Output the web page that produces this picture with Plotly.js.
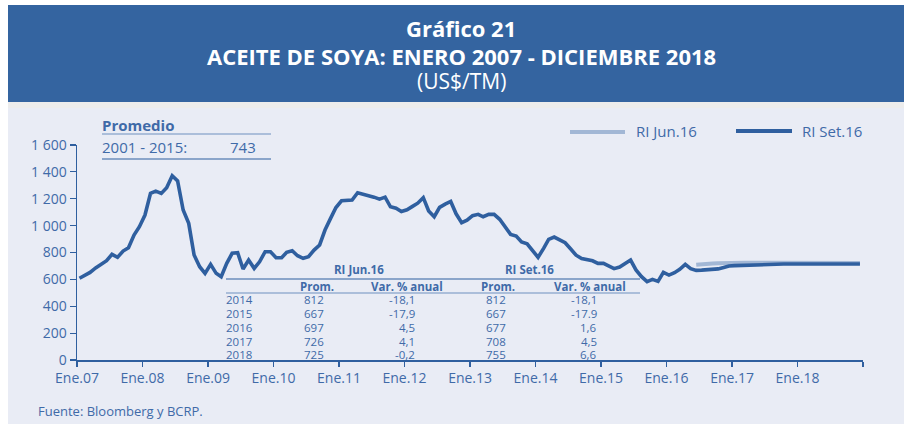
<!DOCTYPE html>
<html><head><meta charset="utf-8">
<script src="https://cdn.plot.ly/plotly-3.0.1.min.js"></script>
<style>html,body{margin:0;padding:0;background:#fff;}#chart{width:904px;height:424px;}</style>
</head><body><div id="chart"></div>
<script>
// ---- data (US$/TM), monthly Jan 2007 - Dec 2018 ----
const startYear = 2007;
const riSet16 = [
  608, 630, 652, 685, 712, 739, 786, 764, 811, 836, 930, 992,      // 2007
  1079, 1240, 1257, 1240, 1282, 1371, 1332, 1116, 1017, 781, 694, 645, // 2008
  712, 645, 620, 719, 794, 798, 677, 744, 682, 731, 806, 806,      // 2009
  761, 761, 801, 813, 776, 757, 769, 818, 856, 967, 1054, 1135,    // 2010
  1185, 1188, 1190, 1245, 1235, 1222, 1212, 1197, 1212, 1140, 1129, 1105, // 2011
  1118, 1143, 1167, 1208, 1109, 1066, 1136, 1160, 1180, 1088, 1022, 1040, // 2012
  1074, 1084, 1066, 1084, 1084, 1047, 992, 935, 922, 878, 865, 818, // 2013
  764, 831, 898, 915, 893, 873, 828, 780, 755, 748, 738, 719,      // 2014
  719, 699, 680, 692, 715, 744, 670, 620, 583, 600, 585, 652,      // 2015
  632, 650, 675, 712, 680, 667, 669, 671, 675, 678, 688, 700,      // 2016
  702, 704, 706, 707, 709, 710, 711, 712, 713, 714, 714, 714,      // 2017
  714, 714, 714, 714, 714, 714, 714, 714, 714, 714, 714, 714       // 2018
];
const riJun16Start = 113; // month index (Jun 2016)
const riJun16 = [
  708, 713, 716, 718, 720, 722, 723,                               // 2016 Jun-Dec
  724, 724, 724, 724, 724, 724, 724, 724, 723, 722, 722, 722,      // 2017
  722, 722, 722, 722, 722, 722, 722, 722, 722, 722, 722, 722       // 2018
];
const xTickYears = [2007,2008,2009,2010,2011,2012,2013,2014,2015,2016,2017,2018,2019];
const xTickText = ['Ene.07','Ene.08','Ene.09','Ene.10','Ene.11','Ene.12','Ene.13','Ene.14','Ene.15','Ene.16','Ene.17','Ene.18',''];
const yTickVals = [0,200,400,600,800,1000,1200,1400,1600];
const yTickText = ['0','200','400','600','800','1 000','1 200','1 400','1 600'];
const promedioLabel = '2001 - 2015:';
const promedioValue = '743';
const tableYears = ['2014','2015','2016','2017','2018'];
const junProm = ['812','667','697','726','725'];
const junVar = ['-18,1','-17,9','4,5','4,1','-0,2'];
const setProm = ['812','667','677','708','755'];
const setVar = ['-18,1','-17.9','1,6','4,5','6,6'];

// ---- helpers ----
function monthDate(i){ const y = startYear + Math.floor(i/12); const m = i%12 + 1; return y + '-' + String(m).padStart(2,'0') + '-15'; }
const xSet = riSet16.map((_, i) => monthDate(i));
const xJun = riJun16.map((_, i) => monthDate(riJun16Start + i));

const L = 77, R = 863, T = 145, B = 360;
const W = 904, H = 424;
const px = x => (x - L) / (R - L);
const py = y => (B - y) / (B - T);

const FONT = 'Open Sans, sans-serif';
const BLUE = '#2f5f9f';
const TXT = '#3f6aa8';
const LIGHT = '#a2b7d5';

const annotations = [];
function ann(text, x, y, size, opts){
  annotations.push(Object.assign({xref:'paper', yref:'paper', x:px(x), y:py(y), text:text, showarrow:false,
    xanchor:'left', yanchor:'middle', borderpad:0, font:{family:FONT, size:size, color:TXT}}, opts||{}));
}
// Header
ann('<b>Gráfico 21</b>', 461, 28, 22, {xanchor:'center', font:{family:FONT, size:22, color:'#ffffff'}});
ann('<b>ACEITE DE SOYA: ENERO 2007 - DICIEMBRE 2018</b>', 461, 56, 22, {xanchor:'center', font:{family:FONT, size:22, color:'#ffffff'}});
ann('(US$/TM)', 461, 81, 21, {xanchor:'center', font:{family:FONT, size:21, color:'#ffffff'}});
// Promedio box
ann('<b>Promedio</b>', 101, 125, 15);
ann(promedioLabel, 101, 147, 15);
ann(promedioValue, 257, 147, 15, {xanchor:'right'});
// Legend
ann('RI Jun.16', 635, 131, 15);
ann('RI Set.16', 801, 131, 15);
// Table
const TF = 11.5;
ann('<b>RI Jun.16</b>', 359, 269, TF, {xanchor:'center'});
ann('<b>RI Set.16</b>', 529, 269, TF, {xanchor:'center'});
ann('<b>Prom.</b>', 317, 286.5, TF, {xanchor:'center'});
ann('<b>Var. % anual</b>', 407, 286.5, TF, {xanchor:'center'});
ann('<b>Prom.</b>', 498, 286.5, TF, {xanchor:'center'});
ann('<b>Var. % anual</b>', 590, 286.5, TF, {xanchor:'center'});
const rowY = [299, 313, 327, 341, 354.5];
tableYears.forEach((yr, i) => {
  ann(yr, 225, rowY[i], TF);
  ann(junProm[i], 325, rowY[i], TF, {xanchor:'right'});
  ann(junVar[i], 416, rowY[i], TF, {xanchor:'right'});
  ann(setProm[i], 507, rowY[i], TF, {xanchor:'right'});
  ann(setVar[i], 598, rowY[i], TF, {xanchor:'right'});
});
// Source
ann('Fuente: Bloomberg y BCRP.', 37, 411, 13);

const shapes = [
  {type:'rect', xref:'paper', yref:'paper', x0:px(8), x1:px(W), y0:py(5), y1:py(102), fillcolor:'#3464a0', line:{width:0}, layer:'below'},
  {type:'rect', xref:'paper', yref:'paper', x0:px(8), x1:px(W), y0:py(102), y1:py(108), fillcolor:'#ececec', line:{width:0}, layer:'below'},
  {type:'rect', xref:'paper', yref:'paper', x0:px(8), x1:px(W), y0:py(108), y1:py(H), fillcolor:'#e9ecf5', line:{width:0}, layer:'below'},
  // promedio lines
  {type:'line', xref:'paper', yref:'paper', x0:px(102), x1:px(271), y0:py(134), y1:py(134), line:{color:'#6f8fc0', width:1.2}},
  {type:'line', xref:'paper', yref:'paper', x0:px(102), x1:px(271), y0:py(159), y1:py(159), line:{color:BLUE, width:1.2}},
  // legend samples
  {type:'line', xref:'paper', yref:'paper', x0:px(570), x1:px(625), y0:py(132), y1:py(132), line:{color:LIGHT, width:4}},
  {type:'line', xref:'paper', yref:'paper', x0:px(736), x1:px(792), y0:py(131), y1:py(131), line:{color:BLUE, width:4}},
  // table lines
  {type:'line', xref:'paper', yref:'paper', x0:px(226), x1:px(640), y0:py(279), y1:py(279), line:{color:BLUE, width:1.2}},
  {type:'line', xref:'paper', yref:'paper', x0:px(226), x1:px(640), y0:py(293), y1:py(293), line:{color:'#6f8fc0', width:1.2}}
];

const traces = [
  {x:xJun, y:riJun16, type:'scatter', mode:'lines', name:'RI Jun.16', line:{color:LIGHT, width:4}, showlegend:false, hoverinfo:'skip'},
  {x:xSet, y:riSet16, type:'scatter', mode:'lines', name:'RI Set.16', line:{color:BLUE, width:3.6}, showlegend:false, hoverinfo:'skip'}
];

const layout = {
  width:W, height:H,
  margin:{l:L, r:W-R, t:T, b:H-B, pad:0},
  paper_bgcolor:'#ffffff', plot_bgcolor:'rgba(0,0,0,0)',
  font:{family:FONT, color:TXT},
  showlegend:false,
  xaxis:{type:'date', range:['2007-01-01','2019-01-01'],
    tickvals:xTickYears.map(y => y + '-01-01'), ticktext:xTickText,
    ticks:'outside', ticklen:5, tickwidth:1.2, tickcolor:BLUE,
    showline:true, linecolor:BLUE, linewidth:1.5, showgrid:false, zeroline:false,
    tickfont:{family:FONT, size:14, color:TXT}, fixedrange:true},
  yaxis:{range:[0,1600], tickvals:yTickVals, ticktext:yTickText,
    ticks:'outside', ticklen:6, tickwidth:1.2, tickcolor:BLUE,
    showline:true, linecolor:BLUE, linewidth:1.5, showgrid:false, zeroline:false,
    tickfont:{family:FONT, size:14, color:TXT}, fixedrange:true},
  annotations:annotations, shapes:shapes
};
Plotly.newPlot('chart', traces, layout, {staticPlot:true, displayModeBar:false});
</script></body></html>
